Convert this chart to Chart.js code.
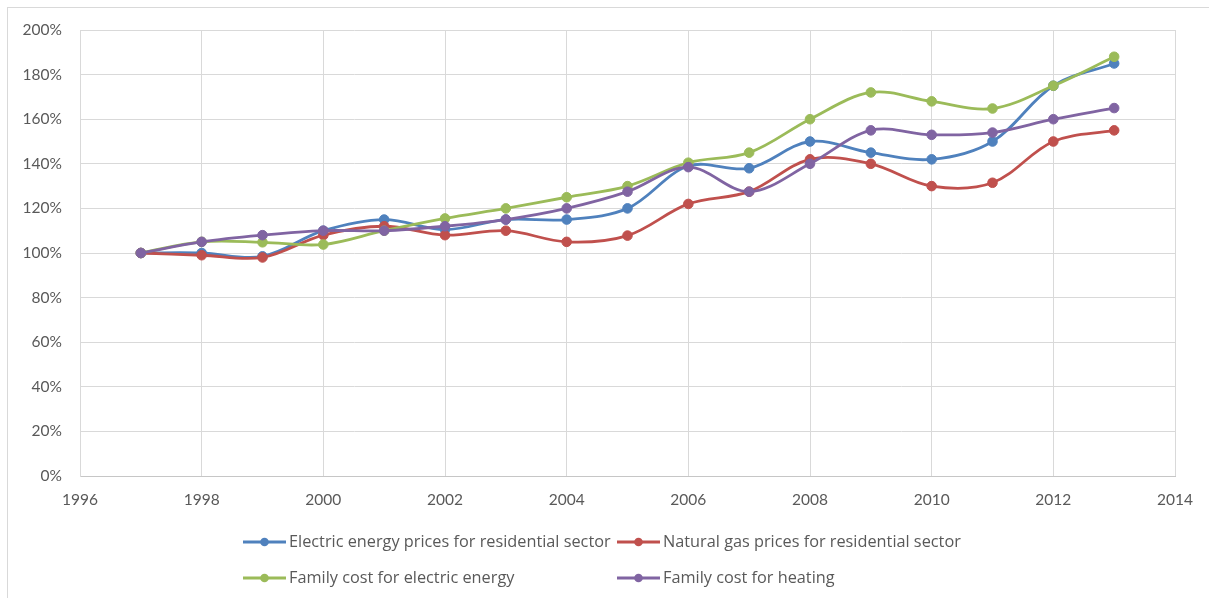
<!DOCTYPE html>
<html>
<head>
<meta charset="utf-8">
<title>Energy prices and family costs, 1997 = 100%</title>
<script src="https://cdn.jsdelivr.net/npm/chart.js@4.4.1/dist/chart.umd.min.js"></script>
<style>
    html, body { margin: 0; padding: 0; background: #fff; }
    #wrap { position: relative; width: 1209px; height: 598px; }
</style>
</head>
<body>
<div id="wrap">
    <canvas id="chart" width="1209" height="598"></canvas>
</div>
<script>
    // Index values, 1997 = 100%
    const years = [1997, 1998, 1999, 2000, 2001, 2002, 2003, 2004, 2005, 2006, 2007, 2008, 2009, 2010, 2011, 2012, 2013];

    const electricPrices = [100, 100, 98.5, 110, 115, 110.5, 115, 115, 120, 139, 138, 150, 145, 142, 150, 175, 185];
    const gasPrices      = [100, 99, 98, 108, 112, 108, 110, 105, 107.8, 122, 127.5, 142, 140, 130, 131.5, 150, 155];
    const familyElectric = [100, 105, 104.8, 103.8, 110, 115.5, 120, 125, 130, 140.5, 145, 160, 172, 168, 164.8, 175, 188];
    const familyHeating  = [100, 105, 108, 110, 110, 112, 115, 120, 127.5, 138.5, 127.5, 140, 155, 153, 154, 160, 165];

    const seriesNames = [
        'Electric energy prices for residential sector',
        'Natural gas prices for residential sector',
        'Family cost for electric energy',
        'Family cost for heating'
    ];
    const seriesColors = ['#4f81bd', '#c0504d', '#9bbb59', '#8064a2'];

    const xTickMin = 1996;
    const xTickMax = 2014;
    const xTickStep = 2;
    const yTickMin = 0;
    const yTickMax = 200;
    const yTickStep = 20;

    const textColor = '#595959';
    const gridColor = '#d9d9d9';
    const tickFont = 'Lato, "Open Sans", sans-serif';
    const legendFont = '"Open Sans", Lato, sans-serif';

    function toPoints(values) {
        return values.map(function(v, i) {
            return { x: years[i], y: v };
        });
    }

    function makeDataset(values, idx) {
        return {
            label: seriesNames[idx],
            data: toPoints(values),
            borderColor: seriesColors[idx],
            backgroundColor: seriesColors[idx],
            pointBackgroundColor: seriesColors[idx],
            pointBorderColor: seriesColors[idx],
            borderWidth: 2.8,
            pointRadius: 4.8,
            pointBorderWidth: 1,
            tension: 0.35,
            fill: false,
            // later series are painted on top
            order: 3 - idx
        };
    }

    // Outer frame line around the whole chart
    const framePlugin = {
        id: 'frame',
        beforeDraw: function(chart) {
            const ctx = chart.ctx;
            ctx.save();
            ctx.strokeStyle = gridColor;
            ctx.lineWidth = 1;
            ctx.strokeRect(7.5, 7.5, chart.width + 20, chart.height + 20);
            ctx.restore();
        }
    };

    // Two-column legend under the x axis
    const legendPlugin = {
        id: 'gridLegend',
        afterDraw: function(chart) {
            const ctx = chart.ctx;
            const colX = [243, 617];
            const rowY = [542, 578];
            const symbolLen = 43;
            ctx.save();
            ctx.font = '16.3px ' + legendFont;
            ctx.textBaseline = 'middle';
            ctx.textAlign = 'left';
            chart.data.datasets.forEach(function(ds, i) {
                const x = colX[i % 2];
                const y = rowY[Math.floor(i / 2)];
                ctx.strokeStyle = ds.borderColor;
                ctx.lineWidth = 2.8;
                ctx.beginPath();
                ctx.moveTo(x, y);
                ctx.lineTo(x + symbolLen, y);
                ctx.stroke();
                ctx.fillStyle = ds.borderColor;
                ctx.beginPath();
                ctx.arc(x + symbolLen / 2, y, 4.3, 0, Math.PI * 2);
                ctx.fill();
                ctx.fillStyle = textColor;
                ctx.fillText(ds.label, x + symbolLen + 3, y);
            });
            ctx.restore();
        }
    };

    function initializeChart() {
        const canvas = document.getElementById('chart');
        if (!canvas || typeof Chart === 'undefined') {
            return;
        }

        new Chart(canvas.getContext('2d'), {
            type: 'line',
            data: {
                datasets: [
                    makeDataset(electricPrices, 0),
                    makeDataset(gasPrices, 1),
                    makeDataset(familyElectric, 2),
                    makeDataset(familyHeating, 3)
                ]
            },
            options: {
                responsive: false,
                animation: false,
                devicePixelRatio: 1,
                layout: {
                    padding: { left: 0, top: 30, right: 34, bottom: 0 }
                },
                plugins: {
                    legend: { display: false },
                    tooltip: { enabled: false }
                },
                scales: {
                    x: {
                        type: 'linear',
                        min: xTickMin,
                        max: xTickMax,
                        afterFit: function(scale) { scale.height = 122; },
                        grid: { color: gridColor, drawTicks: false },
                        border: { color: '#c6c6c6', width: 1 },
                        ticks: {
                            stepSize: xTickStep,
                            padding: 15,
                            color: textColor,
                            font: { family: tickFont, size: 15.5 },
                            callback: function(v) { return String(v); }
                        }
                    },
                    y: {
                        min: yTickMin,
                        max: yTickMax,
                        afterFit: function(scale) { scale.width = 80; },
                        grid: { color: gridColor, drawTicks: false },
                        border: { color: gridColor, width: 1 },
                        ticks: {
                            stepSize: yTickStep,
                            padding: 18,
                            color: textColor,
                            font: { family: tickFont, size: 15.5 },
                            callback: function(v) { return v + '%'; }
                        }
                    }
                }
            },
            plugins: [framePlugin, legendPlugin]
        });
    }

    initializeChart();
</script>
</body>
</html>
